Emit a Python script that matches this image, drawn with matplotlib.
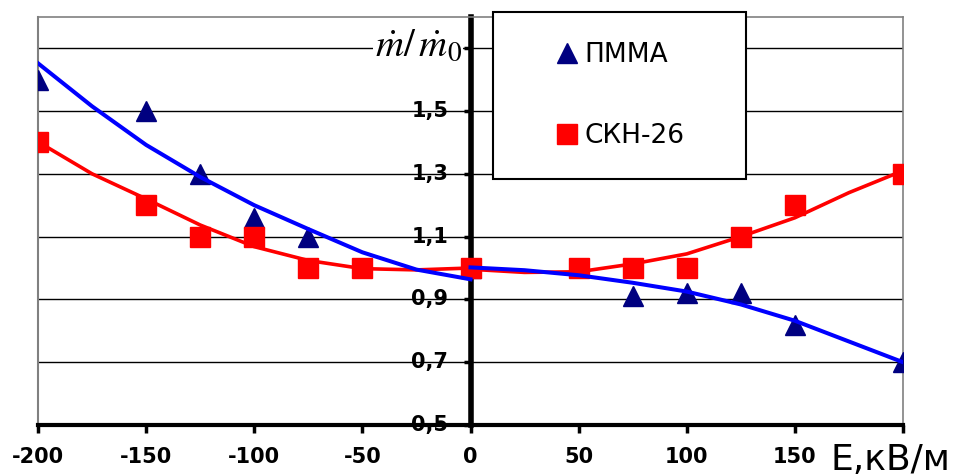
import numpy as np
import matplotlib.pyplot as plt
from matplotlib.patches import Rectangle

plt.rcParams['font.family'] = ['DejaVu Sans']
plt.rcParams['mathtext.fontset'] = 'stix'

# точки эксперимента
E_pmma = [-200, -150, -125, -100, -75, 0, 75, 100, 125, 150, 200]
m_pmma = [1.60, 1.50, 1.30, 1.16, 1.10, 1.00, 0.91, 0.92, 0.92, 0.82, 0.70]

E_skn = [-200, -150, -125, -100, -75, -50, 0, 50, 75, 100, 125, 150, 200]
m_skn = [1.40, 1.20, 1.10, 1.10, 1.00, 1.00, 1.00, 1.00, 1.00, 1.00, 1.10, 1.20, 1.30]

# линии тренда, левая и правая ветви
tr_x = [-200, -175, -150, -125, -100, -75, -50, -25, 0]
tr_pmma_l = [1.652, 1.515, 1.392, 1.290, 1.200, 1.124, 1.050, 0.995, 0.964]
tr_skn_l = [1.402, 1.300, 1.220, 1.137, 1.068, 1.024, 0.998, 0.994, 1.000]
tr_xr = [0, 25, 50, 75, 100, 125, 150, 175, 200]
tr_pmma_r = [1.002, 0.993, 0.977, 0.953, 0.925, 0.884, 0.832, 0.766, 0.700]
tr_skn_r = [0.996, 0.986, 0.988, 1.013, 1.045, 1.100, 1.160, 1.240, 1.310]

xticks = [-200, -150, -100, -50, 0, 50, 100, 150, 200]
xlabels = ['-200', '-150', '-100', '-50', '0', '50', '100', '150', '']
yticks = [0.5, 0.7, 0.9, 1.1, 1.3, 1.5, 1.7]
ylabels = ['0,5', '0,7', '0,9', '1,1', '1,3', '1,5', '']

fig = plt.figure(figsize=(9.57, 4.76), dpi=100)
ax = fig.add_axes([0.0397, 0.1071, 0.9039, 0.8576])
ax.set_xlim(-200, 200)
ax.set_ylim(0.5, 1.8)

for y in yticks[1:]:
    ax.axhline(y, color='black', lw=1.0, zorder=1)

ax.plot(tr_x, tr_skn_l, color='#FF0000', lw=2.6, zorder=2)
ax.plot(tr_xr, tr_skn_r, color='#FF0000', lw=2.6, zorder=2)
ax.plot(E_pmma, m_pmma, '^', color='#000080', ms=14, ls='none', zorder=3, label='ПММА')
ax.plot(E_skn, m_skn, 's', color='#FF0000', ms=14.5, ls='none', zorder=3, label='СКН-26')
ax.plot(tr_x, tr_pmma_l, color='#0000FF', lw=2.9, zorder=4)
ax.plot(tr_xr, tr_pmma_r, color='#0000FF', lw=2.9, zorder=4)

ax.spines['left'].set_position(('data', 0))
ax.spines['left'].set_linewidth(4)
ax.spines['bottom'].set_linewidth(3)
for s in ['top', 'right']:
    ax.spines[s].set_color('#808080')
    ax.spines[s].set_linewidth(1.2)
ax.axvline(-200, color='#808080', lw=1.5, clip_on=False, zorder=1)

ax.set_xticks(xticks)
ax.set_xticklabels(xlabels, fontsize=15, fontweight='bold')
ax.set_yticks(yticks)
ax.set_yticklabels(ylabels, fontsize=15, fontweight='bold')
ax.tick_params(axis='x', direction='out', length=6, width=2.5, pad=10)
ax.tick_params(axis='y', direction='out', length=5, width=2.5, pad=11)
for t in ax.get_yticklabels():
    t.set_verticalalignment('center')

ax.text(-4, 1.71, r'$\dot{m}/\,\dot{m}_0$', fontsize=28, ha='right', va='center',
        zorder=5, bbox=dict(facecolor='white', edgecolor='none', pad=1))

fig.text(830 / 957, 6 / 476, 'E,кВ/м', fontsize=26, ha='left', va='baseline')

# рамка легенды
fig.patches.append(Rectangle((493 / 957, 1 - 179 / 476), 253 / 957, 167 / 476,
                             transform=fig.transFigure, facecolor='white',
                             edgecolor='black', lw=1.5, zorder=2))
h, l = ax.get_legend_handles_labels()
fig.legend(h, l, loc='upper left', bbox_to_anchor=(558 / 957, 1 - 42 / 476),
           frameon=False, fontsize=19, borderpad=0, borderaxespad=0,
           handlelength=0.7, handletextpad=0.3, labelspacing=2.1)

fig.savefig('out.png', dpi=100)
